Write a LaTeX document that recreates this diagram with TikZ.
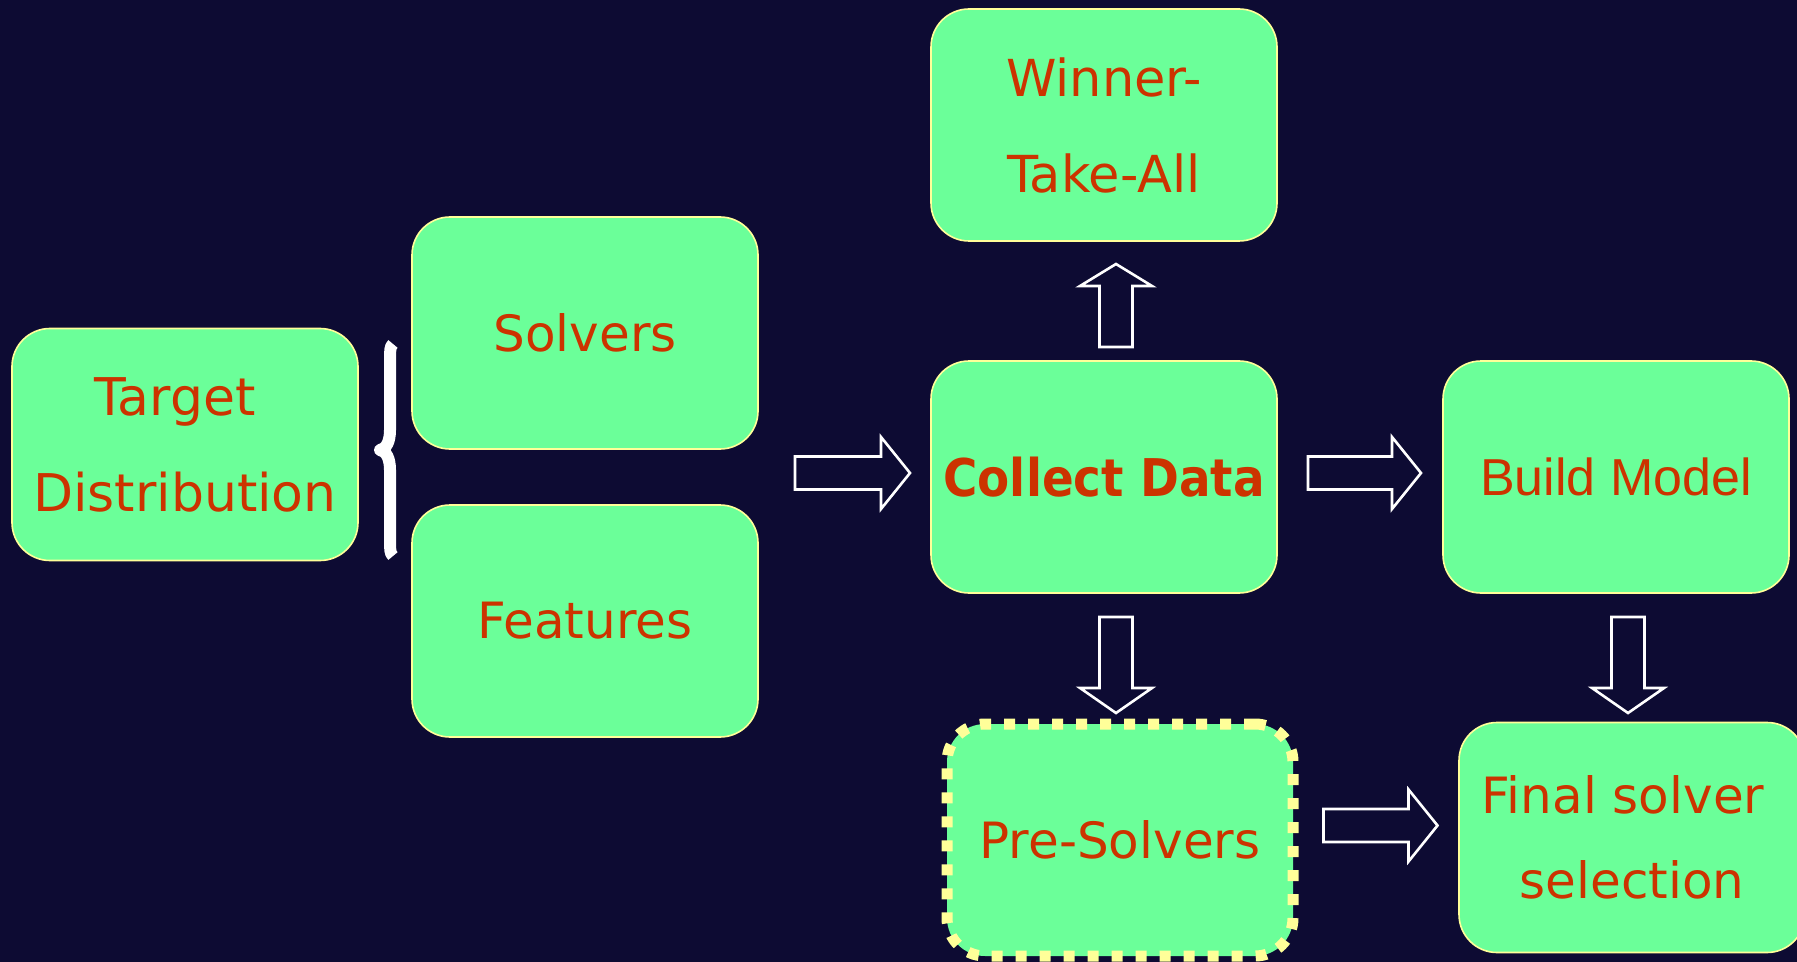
\documentclass[tikz,border=0pt]{standalone}
\usepackage{fontspec}
\setmainfont{DejaVu Sans}
\newfontfamily\arialfont{Liberation Sans}
\newfontfamily\boldfont[FakeStretch=0.9]{DejaVu Sans}
\usetikzlibrary{positioning}
\definecolor{nightbg}{HTML}{0D0B33}
\definecolor{boxgreen}{HTML}{6BFF99}
\definecolor{boxtext}{HTML}{CC3300}
\definecolor{paleyellow}{HTML}{FFFF99}

\begin{document}
\begin{tikzpicture}[x=0.5pt,y=-0.5pt,on grid,
    box/.style={draw=paleyellow,line width=0.8pt,fill=boxgreen,text=boxtext,
      rounded corners=19pt,minimum width=173pt,minimum height=116pt,
      inner sep=0pt,align=center,font=\fontsize{25}{48}\selectfont},
    dotbox/.style={box,line width=5.5pt,dash pattern=on 5.5pt off 6.5pt},
    hollow/.style={draw=white,line width=1.3pt,fill=nightbg,line join=miter},
    brace/.style={draw=white,line width=6pt,line join=round}]
   \fill[nightbg] (0,0) rectangle (1797,962);
   \useasboundingbox (0,0) rectangle (1797,962);
   \node[box,font=\fontsize{26}{48}\selectfont] (target) at (185,444.5) {Target\hspace*{10pt}\\Distribution};
   \node[box] (solvers) at (585,333) {Solvers};
   \node[box] (features) [below=144pt of solvers] {Features};
   \node[box,font=\fontsize{26}{48}\selectfont] (collect) at (1104,477) {\boldfont\bfseries Collect Data};
   \node[box,font=\fontsize{25.5}{48}\selectfont] (winner) [above=176pt of collect] {Winner-\\Take-All};
   \node[box,font=\fontsize{26}{48}\selectfont\arialfont] (build) [right=256pt of collect] {Build Model};
   \node[dotbox] (pre) [below right=181.5pt and 8pt of collect] {Pre-Solvers};
   \node[box,minimum height=115pt,font=\fontsize{25}{42.5}\selectfont] (final) [below right=180.25pt and 8pt of build] {Final solver\hspace*{9pt}\\selection};
   \draw[brace] (393,344) .. controls (390,346) and (390,351) .. (390,360) -- (390,430)
     .. controls (390,442) and (386,449) .. (380,450) .. controls (386,451) and (390,458) .. (390,470)
     -- (390,540) .. controls (390,549) and (390,554) .. (393,556);
   \foreach \cx/\cy/\ang/\len/\hd in {852.5/473/0/57.5/29, 1364.5/473/0/56.5/29, 1380.5/825.5/0/57/29,
       1116/305.5/90/41.5/22, 1116/665/-90/48/25, 1628/665/-90/48/25}
     \draw[hollow,shift={(\cx,\cy)},rotate=\ang] (-\len,-16.5) -- (\len-\hd,-16.5) -- (\len-\hd,-36)
       -- (\len,0) -- (\len-\hd,36) -- (\len-\hd,16.5) -- (-\len,16.5) -- cycle;
\end{tikzpicture}
\end{document}
